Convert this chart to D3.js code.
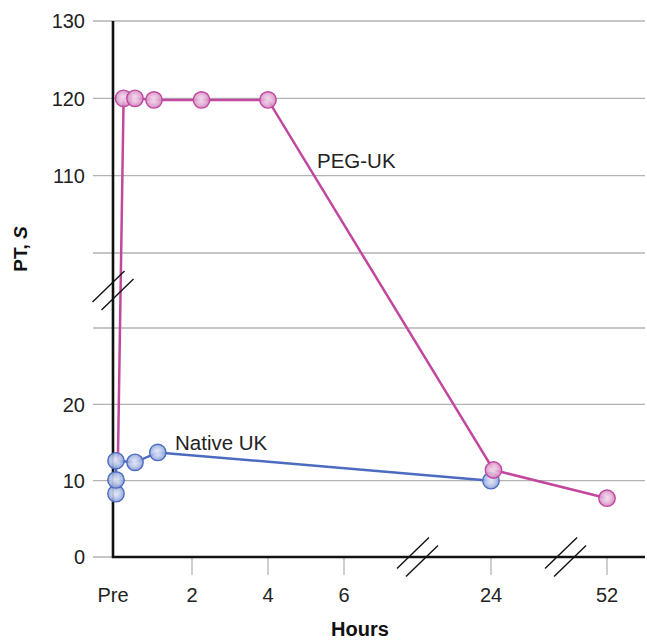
<!DOCTYPE html>
<html>
<head>
<meta charset="utf-8">
<script src="https://cdn.jsdelivr.net/npm/d3@7/dist/d3.min.js"></script>
<style>
  html, body { margin: 0; padding: 0; background: #fff; }
  svg { display: block; font-family: "Liberation Sans", Arial, Helvetica, sans-serif; }
</style>
</head>
<body>
<svg id="chart" width="647" height="641"></svg>
<script>
// Prothrombin time (s) after dosing: PEG-UK vs native UK
const pegHours  = [0.05, 0.2, 0.5, 1, 2.25, 4, 24.6, 52];
const pegPT     = [12.5, 120, 120, 119.8, 119.8, 119.8, 11.4, 7.7];
const nativeHours = [0, 0, 0, 0.5, 1.1, 24];
const nativePT    = [8.3, 10.1, 12.6, 12.4, 13.7, 10];

const xTickValues = [0, 2, 4, 6, 24, 52];
const xTickLabels = ["Pre", "2", "4", "6", "24", "52"];
const yGridValues = [0, 10, 20, 30, 100, 110, 120, 130];
const yTickValues = [0, 10, 20, 110, 120, 130];
const xBreaks = [15, 42];     // hours where the time axis is broken
const yBreak = 65;            // PT value inside the gap between 30 and 100

const pegColor = "#c2479e";
const nativeColor = "#4a6bc0";
const fontSize = 20;

const svg = d3.select("#chart");

// Broken scales: piecewise linear segments
const x = d3.scaleLinear().domain([0, 6, 24, 52]).range([116, 344, 491, 607]);
const y = d3.scaleLinear().domain([0, 30, 100, 130]).range([557, 328, 253, 21]);

const axisX = 113, plotRight = 645, gridLeft = 93;

// Gradients for the bead-like markers
const defs = svg.append("defs");
function bead(id, inner, mid, outer) {
  const g = defs.append("radialGradient").attr("id", id)
    .attr("cx", "48%").attr("cy", "48%").attr("r", "55%");
  g.append("stop").attr("offset", "0%").attr("stop-color", inner);
  g.append("stop").attr("offset", "55%").attr("stop-color", mid);
  g.append("stop").attr("offset", "100%").attr("stop-color", outer);
}
bead("pegBead", "#f7e4f1", "#e3b0d6", "#cc7dba");
bead("nativeBead", "#edf0fa", "#b7c4e9", "#8198d4");

// Horizontal gridlines
svg.append("g").selectAll("line").data(yGridValues).join("line")
  .attr("x1", gridLeft).attr("x2", plotRight)
  .attr("y1", d => y(d)).attr("y2", d => y(d))
  .attr("stroke", "#b3b3b3").attr("stroke-width", 1.3);

// Y tick labels
svg.append("g").selectAll("text").data(yTickValues).join("text")
  .attr("x", 85).attr("y", d => y(d)).attr("dy", "0.36em")
  .attr("text-anchor", "end").attr("font-size", fontSize).attr("fill", "#222")
  .text(d => d);

// X ticks (skip Pre, which sits on the corner)
svg.append("g").selectAll("line").data(xTickValues.filter(d => d > 0)).join("line")
  .attr("x1", d => x(d)).attr("x2", d => x(d))
  .attr("y1", 557).attr("y2", 575)
  .attr("stroke", "#b3b3b3").attr("stroke-width", 1.3);

svg.append("g").selectAll("text").data(xTickValues).join("text")
  .attr("x", (d, i) => i === 0 ? 113 : x(d)).attr("y", 602)
  .attr("text-anchor", "middle").attr("font-size", fontSize).attr("fill", "#222")
  .text((d, i) => xTickLabels[i]);

// Axis lines
svg.append("path")
  .attr("d", `M${axisX},${y(130)}V${y(0)}H${plotRight}`)
  .attr("fill", "none").attr("stroke", "#111").attr("stroke-width", 2.6);

// Data lines
const line = d3.line().x(d => x(d[0])).y(d => y(d[1]));
svg.append("path")
  .datum(nativeHours.map((h, i) => [h, nativePT[i]]))
  .attr("d", line).attr("fill", "none")
  .attr("stroke", nativeColor).attr("stroke-width", 2.5);
svg.append("path")
  .datum(pegHours.map((h, i) => [h, pegPT[i]]))
  .attr("d", line).attr("fill", "none")
  .attr("stroke", pegColor).attr("stroke-width", 2.5);

// Axis break marks
function breakMark(cx, cy) {
  const g = svg.append("g").attr("stroke", "#111").attr("stroke-width", 1.4);
  [[-4.5, -4], [4.5, 4]].forEach(([dx, dy]) => {
    g.append("line")
      .attr("x1", cx + dx - 16).attr("y1", cy + dy + 15.5)
      .attr("x2", cx + dx + 16).attr("y2", cy + dy - 15.5);
  });
}
breakMark(axisX, y(yBreak));
xBreaks.forEach(h => breakMark(x(h), 557));

// Markers
const r = 8.2;
svg.append("g").selectAll("circle")
  .data(nativeHours.map((h, i) => [h, nativePT[i]])).join("circle")
  .attr("cx", d => x(d[0])).attr("cy", d => y(d[1])).attr("r", r)
  .attr("fill", "url(#nativeBead)").attr("fill-opacity", 0.9)
  .attr("stroke", nativeColor).attr("stroke-width", 1.4);
svg.append("g").selectAll("circle")
  .data(pegHours.map((h, i) => [h, pegPT[i]]).slice(1)).join("circle")
  .attr("cx", d => x(d[0])).attr("cy", d => y(d[1])).attr("r", r)
  .attr("fill", "url(#pegBead)").attr("fill-opacity", 0.9)
  .attr("stroke", pegColor).attr("stroke-width", 1.4);

// Series labels
svg.append("text").attr("x", 317).attr("y", 168)
  .attr("font-size", fontSize + 0.5).attr("fill", "#222").text("PEG-UK");
svg.append("text").attr("x", 175).attr("y", 450)
  .attr("font-size", fontSize + 0.5).attr("fill", "#222").text("Native UK");

// Axis titles
svg.append("text").attr("x", 360).attr("y", 636)
  .attr("text-anchor", "middle").attr("font-size", fontSize).attr("font-weight", "bold")
  .attr("fill", "#111").text("Hours");
const yt = svg.append("text")
  .attr("transform", "translate(27,249) rotate(-90)")
  .attr("text-anchor", "middle").attr("font-size", 19).attr("font-weight", "bold")
  .attr("fill", "#111");
yt.append("tspan").text("PT, ");
yt.append("tspan").attr("font-style", "italic").text("S");
</script>
</body>
</html>
